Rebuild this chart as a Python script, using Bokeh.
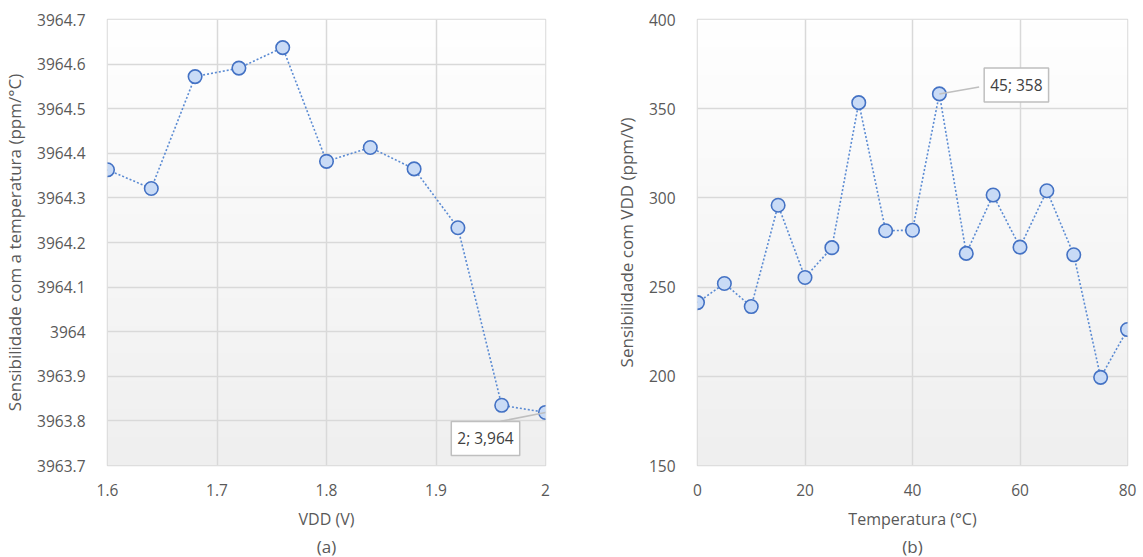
import numpy as np
from bokeh.plotting import figure
from bokeh.layouts import row
from bokeh.models import (Range1d, FixedTicker, CustomJSTickFormatter, Label,
                          Segment, ColumnDataSource, Title)
from bokeh.embed import file_html
from bokeh.resources import INLINE

# ---------------- data ----------------
vdd = [1.60, 1.64, 1.68, 1.72, 1.76, 1.80, 1.84, 1.88, 1.92, 1.96, 2.00]
sens_temp = [3964.363, 3964.321, 3964.572, 3964.591, 3964.637, 3964.382,
             3964.413, 3964.365, 3964.233, 3963.835, 3963.819]

temp = [0, 5, 10, 15, 20, 25, 30, 35, 40, 45, 50, 55, 60, 65, 70, 75, 80]
sens_vdd = [241.3, 252.0, 239.1, 295.9, 255.4, 272.1, 353.4, 281.6, 281.9,
            358.3, 268.9, 301.6, 272.4, 304.0, 268.1, 199.4, 226.2]

xticks_a = [1.6, 1.7, 1.8, 1.9, 2.0]
yticks_a = [3963.7, 3963.8, 3963.9, 3964.0, 3964.1, 3964.2, 3964.3, 3964.4, 3964.5, 3964.6, 3964.7]
xticks_b = [0, 20, 40, 60, 80]
yticks_b = [150, 200, 250, 300, 350, 400]

label_a = "2; 3,964"
label_b = "45; 358"

FONT = "Open Sans"
TXT = "#595959"
GRID = "#d9d9d9"
BLUE = "#4472c4"


def gradient_bg(p, xr, yr):
    n = 128
    g = np.linspace(239, 255, n)
    img = np.empty((n, 1), dtype=np.uint32)
    v = img.view(dtype=np.uint8).reshape((n, 1, 4))
    v[:, 0, 0] = g
    v[:, 0, 1] = g
    v[:, 0, 2] = g
    v[:, 0, 3] = 255
    p.image_rgba(image=[img], x=xr[0], y=yr[0], dw=xr[1] - xr[0], dh=yr[1] - yr[0],
                 level="image")


def make_fig(width, ml, mr, xr, yr, xticks, yticks, xlabel, ylabel, sub):
    p = figure(width=width, height=557, output_backend="svg", toolbar_location=None,
               x_range=Range1d(*xr), y_range=Range1d(*yr),
               min_border_left=ml, min_border_right=mr,
               min_border_top=19, min_border_bottom=91)
    p.background_fill_color = "white"
    p.border_fill_color = "white"
    p.outline_line_color = GRID
    p.outline_line_width = 1.5
    gradient_bg(p, xr, yr)
    for ax in (p.xaxis[0], p.yaxis[0]):
        ax.axis_line_color = None
        ax.major_tick_line_color = None
        ax.minor_tick_line_color = None
        ax.major_label_text_font = FONT
        ax.major_label_text_font_size = "15.5px"
        ax.major_label_text_color = TXT
        ax.axis_label_text_font = FONT
        ax.axis_label_text_font_size = "16px"
        ax.axis_label_text_font_style = "normal"
        ax.axis_label_text_color = TXT
        ax.major_label_standoff = 12
        ax.axis_label_standoff = 9
    p.xaxis[0].ticker = FixedTicker(ticks=xticks)
    p.yaxis[0].ticker = FixedTicker(ticks=yticks)
    fmt = CustomJSTickFormatter(code="""
        var s = (Math.round(tick*10)/10).toFixed(1);
        return s.replace(/\\.0$/, '');
    """)
    p.xaxis[0].formatter = fmt
    p.yaxis[0].formatter = fmt
    p.xaxis[0].axis_label = xlabel
    p.yaxis[0].axis_label = ylabel
    p.yaxis[0].axis_label_text_font_size = "17px"
    p.yaxis[0].major_label_standoff = 16
    p.yaxis[0].axis_label_standoff = 8
    for g in (p.xgrid[0], p.ygrid[0]):
        g.grid_line_color = GRID
        g.grid_line_width = 1.5
    p.xgrid[0].ticker = FixedTicker(ticks=xticks)
    p.ygrid[0].ticker = FixedTicker(ticks=yticks)
    t = Title(text=sub, align="center", text_font=FONT, text_font_size="17px",
              text_font_style="normal", text_color=TXT, standoff=0)
    p.add_layout(t, "below")
    return p


def draw_series(p, xs, ys):
    p.line(xs, ys, line_color="#5b8bd3", line_width=1.6, line_dash="2 2")
    p.scatter(xs, ys, size=13.5, marker="circle", fill_color="#c9dbf6",
              line_color=BLUE, line_width=1.6)


def callout(p, x, y, dx, dy, text, xoff, yoff):
    src = ColumnDataSource(dict(x0=[x], y0=[y], x1=[x + dx], y1=[y + dy]))
    p.add_glyph(src, Segment(x0="x0", y0="y0", x1="x1", y1="y1",
                             line_color="#bfbfbf", line_width=1.5))
    p.add_layout(Label(x=x, y=y, x_offset=xoff, y_offset=yoff, text=text,
                       text_align="center", text_baseline="middle",
                       text_font=FONT, text_font_size="15.5px", text_color="#404040",
                       background_fill_color="white", border_line_color="#bfbfbf",
                       border_line_width=1.5, padding=6))


pa = make_fig(572, 105, 27, (1.6, 2.0), (3963.7, 3964.7), xticks_a, yticks_a,
              "VDD (V)", "Sensibilidade com a temperatura (ppm/°C)", "(a)")
draw_series(pa, vdd, sens_temp)
callout(pa, vdd[-1], sens_temp[-1], -0.041, -0.020, label_a, -60, -26)

pb = make_fig(571, 125, 16, (0, 80), (150, 400), xticks_b, yticks_b,
              "Temperatura (°C)", "Sensibilidade com VDD (ppm/V)", "(b)")
draw_series(pb, temp, sens_vdd)
callout(pb, temp[9], sens_vdd[9], 7.4, 3.9, label_b, 77, 9)

layout = row(pa, pb)
open("out.html", "w").write(file_html(layout, INLINE))
